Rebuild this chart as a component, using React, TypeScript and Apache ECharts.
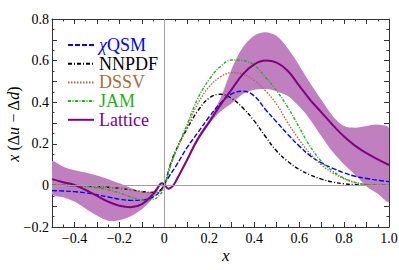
import React, { useEffect, useRef } from 'react';
import * as echarts from 'echarts';

// shared x grid for the model curves
const xGrid = [-0.5, -0.45, -0.4, -0.35, -0.3, -0.25, -0.2, -0.15, -0.1, -0.05, -0.02, 0, 0.025, 0.05, 0.1, 0.15, 0.2, 0.25, 0.3, 0.35, 0.4, 0.45, 0.5, 0.55, 0.6, 0.65, 0.7, 0.75, 0.8, 0.85, 0.9, 0.95, 1.0];
const qsm = [-0.025, -0.027, -0.03, -0.036, -0.045, -0.056, -0.066, -0.072, -0.07, -0.055, -0.03, 0.005, 0.05, 0.09, 0.18, 0.255, 0.33, 0.395, 0.44, 0.453, 0.43, 0.365, 0.305, 0.245, 0.19, 0.142, 0.108, 0.082, 0.06, 0.044, 0.033, 0.025, 0.018];
const nnpdf = [0.0, 0.0, -0.001, -0.003, -0.005, -0.009, -0.014, -0.021, -0.029, -0.034, -0.025, 0.003, 0.095, 0.165, 0.27, 0.36, 0.42, 0.438, 0.418, 0.372, 0.31, 0.235, 0.165, 0.115, 0.077, 0.05, 0.03, 0.016, 0.008, 0.003, 0.001, 0.0, 0.0];
const dssv = [0.002, 0.001, 0.0, -0.002, -0.005, -0.009, -0.014, -0.021, -0.03, -0.037, -0.03, 0.0, 0.09, 0.16, 0.28, 0.395, 0.475, 0.522, 0.542, 0.535, 0.505, 0.455, 0.39, 0.3, 0.22, 0.152, 0.098, 0.06, 0.032, 0.013, 0.004, 0.0, 0.0];
const jam = [0.0, 0.0, -0.002, -0.006, -0.012, -0.022, -0.036, -0.055, -0.07, -0.068, -0.045, -0.008, 0.085, 0.16, 0.29, 0.42, 0.51, 0.572, 0.603, 0.6, 0.578, 0.52, 0.455, 0.375, 0.28, 0.185, 0.115, 0.068, 0.035, 0.014, 0.004, 0.0, 0.0];

// lattice curve and its uncertainty band
const latticeX = [-0.5, -0.45, -0.4, -0.35, -0.3, -0.25, -0.2, -0.15, -0.1, -0.05, -0.03, -0.012, 0, 0.018, 0.035, 0.05, 0.1, 0.15, 0.2, 0.25, 0.3, 0.35, 0.4, 0.45, 0.5, 0.55, 0.6, 0.65, 0.7, 0.75, 0.8, 0.85, 0.9, 0.95, 1.0];
const lattice = [0.03, 0.015, 0.002, -0.022, -0.05, -0.078, -0.098, -0.105, -0.09, -0.042, -0.012, 0.01, 0.004, -0.016, -0.006, 0.018, 0.12, 0.225, 0.305, 0.387, 0.462, 0.535, 0.582, 0.6, 0.59, 0.55, 0.48, 0.41, 0.35, 0.29, 0.235, 0.19, 0.155, 0.125, 0.098];
const latticeHigh = [0.115, 0.09, 0.073, 0.062, 0.048, 0.03, 0.01, -0.012, -0.03, -0.028, -0.006, 0.014, 0.008, -0.012, -0.002, 0.022, 0.125, 0.235, 0.318, 0.42, 0.56, 0.665, 0.72, 0.736, 0.718, 0.658, 0.578, 0.49, 0.41, 0.333, 0.285, 0.277, 0.285, 0.292, 0.275];
const latticeLow = [-0.04, -0.057, -0.078, -0.112, -0.145, -0.17, -0.167, -0.148, -0.115, -0.062, -0.025, 0.005, 0.0, -0.02, -0.01, 0.014, 0.115, 0.212, 0.295, 0.355, 0.395, 0.44, 0.46, 0.463, 0.452, 0.43, 0.38, 0.315, 0.235, 0.16, 0.1, 0.05, -0.005, -0.04, -0.078];

const seriesNames = ['\u03c7QSM', 'NNPDF', 'DSSV', 'JAM', 'Lattice'];
const seriesColors = ['#0000ff', '#000000', '#a86c3c', '#1faf1f', '#800080'];

const FONT = 'Liberation Serif';

const fmtTick = (v: number) => {
  const k = Math.round(v * 10);
  if (k % 2 !== 0) return '';
  if (k === 0) return '0';
  return (k / 10).toFixed(1).replace('-', '\u2212');
};

const pairs = (xs: number[], ys: number[]) => xs.map((x, i) => [x, ys[i]]);

export default function App() {
  const ref = useRef<HTMLDivElement>(null);
  useEffect(() => {
    document.body.style.margin = '0';
    if (!ref.current) return;
    const chart = echarts.init(ref.current, undefined, { renderer: 'svg' });
    const axisColor = '#333';
    const xBase: any = {
      type: 'value', min: -0.5, max: 1.0, interval: 0.1,
      splitLine: { show: false },
      axisLine: { show: true, onZero: false, lineStyle: { color: axisColor, width: 1 } },
      axisTick: { show: true, inside: true, length: 5, lineStyle: { color: axisColor } },
      minorTick: { show: true, splitNumber: 2, length: 2.5, lineStyle: { color: axisColor } },
    };
    const yBase: any = {
      type: 'value', min: -0.2, max: 0.8, interval: 0.1,
      splitLine: { show: false },
      axisLine: { show: true, onZero: false, lineStyle: { color: axisColor, width: 1 } },
      axisTick: { show: true, inside: true, length: 5, lineStyle: { color: axisColor } },
      minorTick: { show: true, splitNumber: 2, length: 2.5, lineStyle: { color: axisColor } },
    };
    const dashes: any[] = [[5, 2], [4, 2, 1, 2], [1.5, 1.5], [3, 1.5, 1, 1.5], 'solid'];
    const widths = [1.4, 1.4, 1.4, 1.4, 2];
    const datas = [qsm, nnpdf, dssv, jam];
    const lineSeries: any[] = seriesNames.map((name, i) => ({
      name, type: 'line', xAxisIndex: 0, yAxisIndex: 0,
      data: i < 4 ? pairs(xGrid, datas[i]) : pairs(latticeX, lattice),
      smooth: 0.4, showSymbol: false, symbol: 'none', z: 4,
      lineStyle: { color: seriesColors[i], width: widths[i], type: dashes[i] },
      itemStyle: { color: seriesColors[i] },
    }));
    const option: any = {
      animation: false,
      grid: { left: 52, right: 10, top: 19, bottom: 43, containLabel: false, outerBoundsMode: 'none' },
      xAxis: [
        { ...xBase, position: 'bottom',
          axisLabel: { show: true, margin: 4, color: '#000', fontFamily: FONT, fontSize: 14, formatter: fmtTick, showMinLabel: false } },
        { ...xBase, position: 'top', axisLabel: { show: false } },
      ],
      yAxis: [
        { ...yBase, position: 'left',
          axisLabel: { show: true, margin: 3, color: '#000', fontFamily: FONT, fontSize: 14, formatter: fmtTick } },
        { ...yBase, position: 'right', axisLabel: { show: false } },
      ],
      legend: {
        orient: 'vertical', left: 62, top: 31, itemWidth: 26, itemHeight: 10, itemGap: 0.7,
        itemStyle: { color: 'rgba(0,0,0,0)', borderColor: 'rgba(0,0,0,0)', borderWidth: 0, opacity: 0 },
        textStyle: { fontFamily: FONT, fontSize: 18,
          rich: { q: { fontStyle: 'italic', fontFamily: FONT, fontSize: 18, color: '#0000ff' } } },
        formatter: (n: string) => (n === '\u03c7QSM' ? '{q|\u03c7}QSM' : n),
        data: seriesNames.map((n, i) => ({ name: n, textStyle: { color: seriesColors[i] } })),
      },
      graphic: [
        { type: 'text', left: 222, top: 247, style: { text: 'x', font: `italic 17px "${FONT}"`, fill: '#000' } },
        { type: 'text', x: 13, y: 124, rotation: Math.PI / 2,
          style: { text: '{i|x} (\u0394{i|u} \u2212 \u0394{i|d})', align: 'center', verticalAlign: 'middle',
            fill: '#000', font: `16px "${FONT}"`,
            rich: { i: { fontStyle: 'italic', fontFamily: FONT, fontSize: 16, fill: '#000' } } } },
      ],
      series: [
        { name: 'zero', type: 'line', data: [[0, 0]], showSymbol: false, symbol: 'none', z: 1,
          lineStyle: { opacity: 0 },
          markLine: { silent: true, symbol: ['none', 'none'], label: { show: false },
            lineStyle: { color: '#a0a0a0', type: 'solid', width: 1 },
            data: [{ xAxis: 0 }, { yAxis: 0 }] } },
        { name: 'band', type: 'custom', xAxisIndex: 0, yAxisIndex: 0, z: 2, clip: true, silent: true,
          data: [[latticeX[0], latticeLow[0]]], encode: { x: 0, y: 1 },
          renderItem: (params: any, api: any) => {
            if (params.dataIndex !== 0) return null;
            const upper = latticeX.map((x, i) => api.coord([x, latticeHigh[i]]));
            const lower = latticeX.map((x, i) => api.coord([x, latticeLow[i]])).reverse();
            return { type: 'polygon', shape: { points: upper.concat(lower), smooth: 0.3 },
              style: { fill: '#c080c0', stroke: 'none' } };
          } },
        ...lineSeries,
      ],
    };
    chart.setOption(option);
    return () => chart.dispose();
  }, []);
  return <div ref={ref} style={{ width: 399, height: 270 }} />;
}
